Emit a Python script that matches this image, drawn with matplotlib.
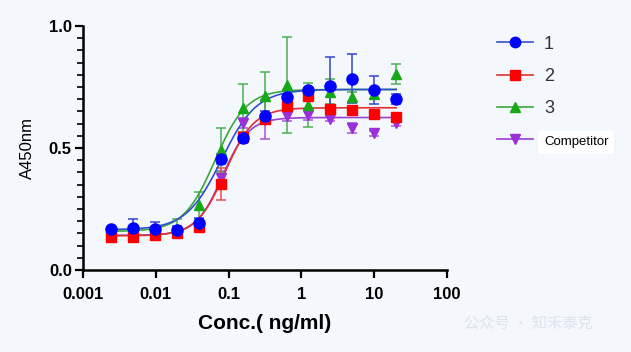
import numpy as np
import matplotlib
matplotlib.use('Agg')
import matplotlib.pyplot as plt
from matplotlib.ticker import FixedLocator, MultipleLocator, NullLocator

plt.rcParams['font.family'] = ['Liberation Sans', 'DejaVu Sans']

# 2-fold dilution series, ng/ml
conc = [0.00244, 0.00488, 0.00977, 0.0195, 0.039, 0.078, 0.156,
        0.3125, 0.625, 1.25, 2.5, 5, 10, 20]

s1 = [0.168, 0.172, 0.168, 0.164, 0.193, 0.455, 0.541, 0.631, 0.709, 0.738, 0.754, 0.784, 0.738, 0.702]
e1 = [0.010, 0.037, 0.030, 0.015, 0.020, 0.020, 0.020, 0.020, 0.030, 0.010, 0.120, 0.100, 0.058, 0.020]
s2 = [0.137, 0.137, 0.143, 0.150, 0.178, 0.353, 0.545, 0.620, 0.673, 0.715, 0.660, 0.656, 0.639, 0.627]
e2 = [0.010, 0.010, 0.010, 0.010, 0.010, 0.065, 0.020, 0.020, 0.020, 0.010, 0.010, 0.010, 0.010, 0.010]
s3 = [0.160, 0.170, 0.165, 0.170, 0.266, 0.492, 0.664, 0.713, 0.758, 0.676, 0.731, 0.709, 0.721, 0.803]
e3 = [0.010, 0.010, 0.010, 0.040, 0.055, 0.090, 0.100, 0.100, 0.197, 0.090, 0.050, 0.020, 0.020, 0.040]
s4 = [0.145, 0.145, 0.150, 0.155, 0.180, 0.377, 0.602, 0.615, 0.630, 0.635, 0.619, 0.582, 0.561, 0.602]
e4 = [0.010, 0.010, 0.010, 0.010, 0.010, 0.030, 0.020, 0.080, 0.020, 0.020, 0.010, 0.020, 0.010, 0.010]

# 4PL fit parameters: bottom, top, EC50, hill
fit1 = [0.165, 0.740, 0.080, 1.8]
fit2 = [0.140, 0.665, 0.090, 2.2]
fit3 = [0.158, 0.740, 0.065, 2.0]
fit4 = [0.142, 0.625, 0.082, 2.4]

labels = ['1', '2', '3', 'Competitor']


def fourpl(x, p):
    b, t, ec, h = p
    return b + (t - b) / (1 + (ec / x) ** h)


fig = plt.figure(figsize=(6.31, 3.52), dpi=100, facecolor='#f4f8fd')
ax = fig.add_axes([0.1315, 0.233, 0.577, 0.693])
ax.set_facecolor('#f4f8fd')

xx = np.logspace(np.log10(conc[0]), np.log10(conc[-1]), 300)

series = [
    # data, err, fit, marker colour, err colour, line colour, marker, size
    (s4, e4, fit4, '#9b30d9', '#a855d8', '#9b40d0', 'v', 7.5),
    (s3, e3, fit3, '#16a816', '#4caf50', '#3aa83a', '^', 7.5),
    (s2, e2, fit2, '#ff0000', '#e85050', '#e03030', 's', 7),
    (s1, e1, fit1, '#0000ff', '#3344cc', '#3050d0', 'o', 8),
]
names = ['Competitor', '3', '2', '1']

handles = {}
for (y, e, p, mc, ec, lc, m, ms), nm in zip(series, names):
    ax.errorbar(conc, y, yerr=e, fmt='none', ecolor=ec, elinewidth=1.1,
                capsize=3.5, capthick=1.1, zorder=2)
    ax.plot(xx, fourpl(xx, p), color=lc, lw=1.2, zorder=3)
    ax.plot(conc, y, ls='none', marker=m, ms=ms, color=mc, zorder=4)
    h, = ax.plot([], [], color=lc, lw=1.2, marker=m, ms=ms - 0.5, mfc=mc, mec=mc)
    handles[nm] = h

ax.set_xscale('log')
ax.set_xlim(0.001, 100)
ax.set_ylim(0, 1.0)
ax.xaxis.set_major_locator(FixedLocator([0.001, 0.01, 0.1, 1, 10, 100]))
ax.xaxis.set_minor_locator(NullLocator())
ax.set_xticklabels(['0.001', '0.01', '0.1', '1', '10', '100'])
ax.yaxis.set_major_locator(FixedLocator([0, 0.5, 1.0]))
ax.yaxis.set_minor_locator(MultipleLocator(0.05))
ax.set_yticklabels(['0.0', '0.5', '1.0'])

for s in ['top', 'right']:
    ax.spines[s].set_visible(False)
for s in ['left', 'bottom']:
    ax.spines[s].set_linewidth(1.8)
ax.tick_params(which='major', length=6, width=1.6, labelsize=12, pad=2)
ax.tick_params(axis='x', which='major', pad=6)
ax.tick_params(which='minor', length=4, width=1.2)
for t in ax.get_xticklabels() + ax.get_yticklabels():
    t.set_fontweight('bold')

ax.set_xlabel('Conc.( ng/ml)', fontsize=15, fontweight='bold', labelpad=9)
ax.set_ylabel('A450nm', fontsize=12, labelpad=10)

leg = fig.legend([handles[l] for l in labels], labels, loc='upper left',
                 bbox_to_anchor=(0.762, 0.945), frameon=False, fontsize=13,
                 handlelength=2.0, handletextpad=0.6, labelspacing=0.85)
for t in leg.get_texts():
    t.set_color('#333333')
ct = leg.get_texts()[3]
ct.set_fontsize(9.5)
ct.set_color('black')
ct.set_bbox(dict(facecolor='white', edgecolor='none', pad=4))

fig.text(0.735, 0.07, '公众号 · 知禾泰克', fontsize=11, color='#dde4ec',
         family=['Noto Sans CJK SC', 'DejaVu Sans'])

fig.savefig('out.png', dpi=100, facecolor=fig.get_facecolor())
